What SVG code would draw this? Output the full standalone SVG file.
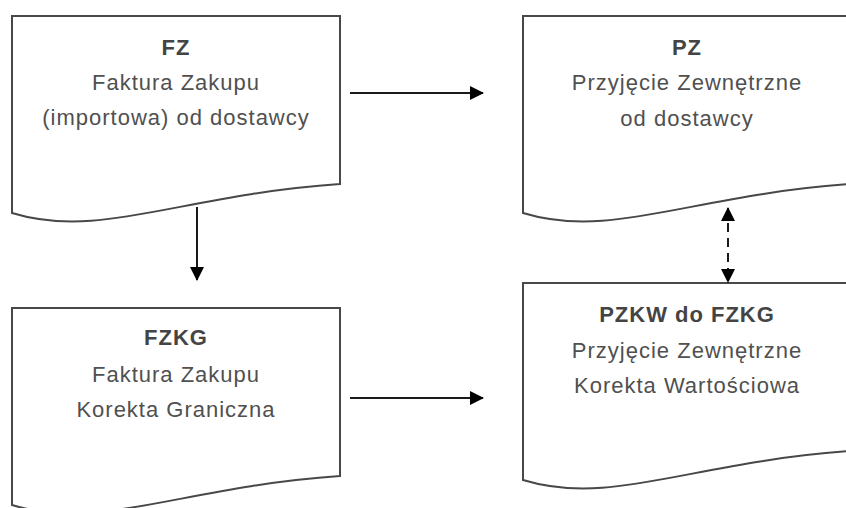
<svg xmlns="http://www.w3.org/2000/svg" width="846" height="508" viewBox="0 0 846 508">
  <style>
    .doc { fill: #ffffff; stroke: #484848; stroke-width: 2; }
    .t { font-family: "Liberation Sans", Arial, sans-serif; font-size: 22px; fill: #505050; text-anchor: middle; letter-spacing: 1px; }
    .b { font-weight: bold; fill: #444444; }
    .conn { stroke: #1a1a1a; stroke-width: 2; fill: none; }
    .dash { stroke-dasharray: 9 6; }
  </style>
  <defs>
    <path id="docShape" d="M0,0 H328 V168 C168,179 88,224 0,197 Z"/>
    <marker id="ah" viewBox="0 0 14 14" refX="13" refY="7" markerWidth="14" markerHeight="14" markerUnits="userSpaceOnUse" orient="auto-start-reverse">
      <path d="M0,0 L14,7 L0,14 Z" fill="#000000"/>
    </marker>
  </defs>

  <g id="node-FZ">
    <use href="#docShape" class="doc" transform="translate(12,16)"/>
    <text class="t b" x="176" y="55">FZ</text>
    <text class="t" x="176" y="90">Faktura Zakupu</text>
    <text class="t" x="176" y="125">(importowa) od dostawcy</text>
  </g>

  <g id="node-PZ">
    <use href="#docShape" class="doc" transform="translate(523,16)"/>
    <text class="t b" x="687" y="55">PZ</text>
    <text class="t" x="687" y="90">Przyjęcie Zewnętrzne</text>
    <text class="t" x="687" y="126">od dostawcy</text>
  </g>

  <g id="node-FZKG">
    <use href="#docShape" class="doc" transform="translate(12,308)"/>
    <text class="t b" x="176" y="345">FZKG</text>
    <text class="t" x="176" y="382">Faktura Zakupu</text>
    <text class="t" x="176" y="417">Korekta Graniczna</text>
  </g>

  <g id="node-PZKW">
    <use href="#docShape" class="doc" transform="translate(523,283)"/>
    <text class="t b" x="687" y="322">PZKW do FZKG</text>
    <text class="t" x="687" y="358">Przyjęcie Zewnętrzne</text>
    <text class="t" x="687" y="393">Korekta Wartościowa</text>
  </g>

  <g id="connectors">
    <line class="conn" x1="350" y1="93" x2="483" y2="93" marker-end="url(#ah)"/>
    <line class="conn" x1="197" y1="207" x2="197" y2="280" marker-end="url(#ah)"/>
    <line class="conn" x1="350" y1="398" x2="483" y2="398" marker-end="url(#ah)"/>
    <line class="conn dash" x1="728" y1="208" x2="728" y2="282" marker-start="url(#ah)" marker-end="url(#ah)"/>
  </g>
</svg>
